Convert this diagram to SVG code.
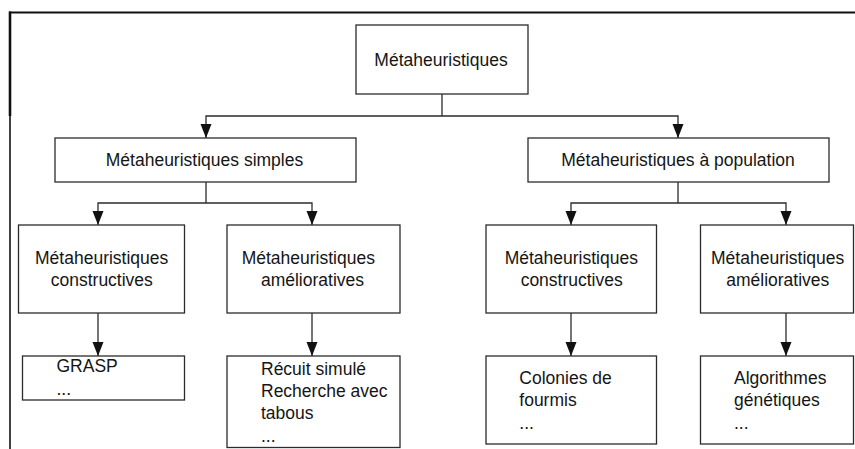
<svg xmlns="http://www.w3.org/2000/svg" width="855" height="449" viewBox="0 0 855 449">
  <style>
    .box { fill: #ffffff; stroke: #2b2b2b; stroke-width: 1.3; }
    .lbl { font-family: "Liberation Sans", Arial, sans-serif; font-size: 17.5px; fill: #151515; }
    .mid { text-anchor: middle; }
    .wire { fill: none; stroke: #2b2b2b; stroke-width: 1.3; }
    .frame { fill: none; stroke: #111111; }
  </style>
  <defs>
    <marker id="arrow" markerUnits="userSpaceOnUse" markerWidth="15" markerHeight="12" refX="14" refY="5.5" orient="auto">
      <path d="M0,0 L14,5.5 L0,11 Z" fill="#111111"/>
    </marker>
  </defs>

  <rect width="855" height="449" fill="#ffffff"/>

  <!-- page frame -->
  <g id="frame">
    <line class="frame" x1="9" y1="12.5" x2="855" y2="12.5" stroke-width="2.2"/>
    <line class="frame" x1="10" y1="11.5" x2="10" y2="116" stroke-width="2.6"/>
    <line class="frame" x1="10" y1="116" x2="10" y2="449" stroke-width="1.6"/>
  </g>

  <!-- connectors -->
  <g id="connectors">
    <polyline class="wire" points="442,94 442,116"/>
    <polyline class="wire" points="442,116 206,116 206,138" marker-end="url(#arrow)"/>
    <polyline class="wire" points="442,116 678,116 678,138" marker-end="url(#arrow)"/>

    <polyline class="wire" points="206,182 206,203"/>
    <polyline class="wire" points="206,203 98,203 98,225" marker-end="url(#arrow)"/>
    <polyline class="wire" points="206,203 312,203 312,225" marker-end="url(#arrow)"/>

    <polyline class="wire" points="678,182 678,203"/>
    <polyline class="wire" points="678,203 571,203 571,225" marker-end="url(#arrow)"/>
    <polyline class="wire" points="678,203 786,203 786,225" marker-end="url(#arrow)"/>

    <polyline class="wire" points="98,313 98,356" marker-end="url(#arrow)"/>
    <polyline class="wire" points="312,313 312,356" marker-end="url(#arrow)"/>
    <polyline class="wire" points="571,313 571,356" marker-end="url(#arrow)"/>
    <polyline class="wire" points="786,313 786,356" marker-end="url(#arrow)"/>
  </g>

  <!-- root -->
  <g id="root">
    <rect class="box" x="356" y="25" width="172" height="69"/>
    <text class="lbl mid" x="441" y="66">Métaheuristiques</text>
  </g>

  <!-- second level -->
  <g id="simples">
    <rect class="box" x="55" y="138" width="301" height="44"/>
    <text class="lbl mid" x="204.5" y="166">Métaheuristiques simples</text>
  </g>
  <g id="population">
    <rect class="box" x="528" y="138" width="301" height="44"/>
    <text class="lbl mid" x="678" y="166">Métaheuristiques à population</text>
  </g>

  <!-- third level -->
  <g id="simples-constructives">
    <rect class="box" x="18.5" y="225" width="166" height="88"/>
    <text class="lbl mid" x="101.7" y="263.5">Métaheuristiques</text>
    <text class="lbl mid" x="101.8" y="286">constructives</text>
  </g>
  <g id="simples-amelioratives">
    <rect class="box" x="227" y="225" width="173" height="88"/>
    <text class="lbl mid" x="308.3" y="263.5">Métaheuristiques</text>
    <text class="lbl mid" x="312.5" y="286">amélioratives</text>
  </g>
  <g id="population-constructives">
    <rect class="box" x="486" y="225" width="170.5" height="88"/>
    <text class="lbl mid" x="571.3" y="263.5">Métaheuristiques</text>
    <text class="lbl mid" x="571.7" y="286">constructives</text>
  </g>
  <g id="population-amelioratives">
    <rect class="box" x="700.5" y="225" width="153" height="88"/>
    <text class="lbl mid" x="777.7" y="263.5">Métaheuristiques</text>
    <text class="lbl mid" x="777.8" y="286">amélioratives</text>
  </g>

  <!-- examples -->
  <g id="grasp">
    <rect class="box" x="22.5" y="356" width="162" height="44"/>
    <text class="lbl" x="56.5" y="372">GRASP</text>
    <text class="lbl" x="56.5" y="395">...</text>
  </g>
  <g id="recuit">
    <rect class="box" x="227" y="356" width="173" height="91.5"/>
    <text class="lbl" x="261" y="374.5">Récuit simulé</text>
    <text class="lbl" x="261" y="396.5">Recherche avec</text>
    <text class="lbl" x="261" y="418.5">tabous</text>
    <text class="lbl" x="261" y="441.5">...</text>
  </g>
  <g id="colonies">
    <rect class="box" x="486" y="356" width="170.5" height="88"/>
    <text class="lbl" x="519.3" y="384">Colonies de</text>
    <text class="lbl" x="519.3" y="406">fourmis</text>
    <text class="lbl" x="519.3" y="428.5">...</text>
  </g>
  <g id="genetiques">
    <rect class="box" x="700.5" y="356" width="153" height="88"/>
    <text class="lbl" x="734" y="384">Algorithmes</text>
    <text class="lbl" x="734" y="406">génétiques</text>
    <text class="lbl" x="734" y="428.5">...</text>
  </g>
</svg>
